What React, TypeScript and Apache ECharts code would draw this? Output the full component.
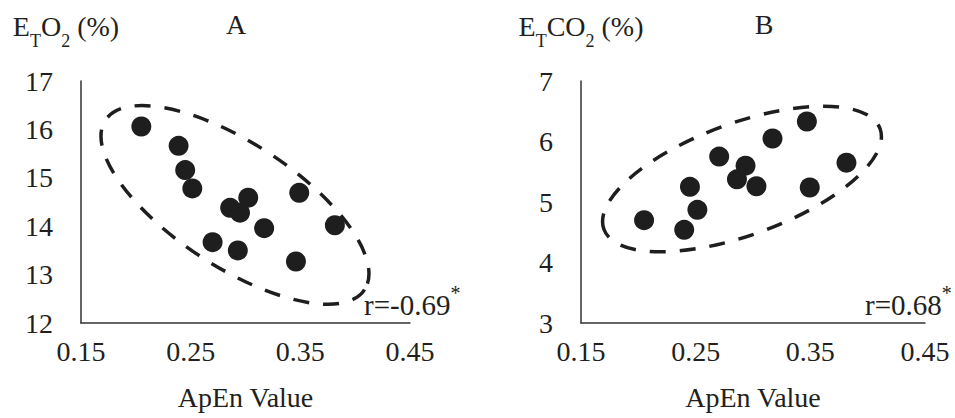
import React, { useEffect, useRef } from "react";
import * as echarts from "echarts";

// ---- Data ----
const xTicks = [0.15, 0.25, 0.35, 0.45];
const yTicksA = [12, 13, 14, 15, 16, 17];
const yTicksB = [3, 4, 5, 6, 7];

// Panel A: ApEn vs EtO2 (%)
const apEnA = [0.205, 0.239, 0.245, 0.2515, 0.3025, 0.286, 0.295, 0.317, 0.349, 0.3815, 0.27, 0.293, 0.346];
const etO2 = [16.06, 15.66, 15.16, 14.78, 14.59, 14.38, 14.28, 13.96, 14.69, 14.02, 13.67, 13.5, 13.27];

// Panel B: ApEn vs EtCO2 (%)
const apEnB = [0.205, 0.245, 0.2515, 0.24, 0.2705, 0.2935, 0.286, 0.303, 0.317, 0.347, 0.3815, 0.3495];
const etCO2 = [4.7, 5.25, 4.87, 4.54, 5.75, 5.6, 5.375, 5.26, 6.05, 6.33, 5.65, 5.24];

// Confidence ellipses (data space): center, end of major axis; minor radius in px
const ellipseACenter = [0.2904, 14.44];
const ellipseAMajorEnd = [0.1722, 16.19];
const ellipseBCenter = [0.2904, 5.38];
const ellipseBMajorEnd = [0.4108, 6.21];

const corrA = "r=-0.69";
const corrB = "r=0.68";

const FONT = "Liberation Serif";
const INK = "#1e1e1e";
const TEXT = "#231f20";

const richName = {
  m: { fontSize: 28, fontFamily: FONT, color: TEXT, lineHeight: 38, verticalAlign: "top" },
  s: { fontSize: 18, fontFamily: FONT, color: TEXT, lineHeight: 38, verticalAlign: "bottom" },
};

function xAxis(idx: number) {
  return {
    gridIndex: idx,
    type: "value",
    min: 0.15,
    max: 0.45,
    name: "ApEn Value",
    nameLocation: "middle",
    nameGap: 60,
    nameTextStyle: { fontSize: 28, fontFamily: FONT, color: TEXT },
    axisLine: { show: true, onZero: false, lineStyle: { color: "#333", width: 1.5 } },
    axisTick: { show: false },
    splitLine: { show: false },
    axisLabel: {
      customValues: xTicks,
      formatter: (v: number) => v.toFixed(2),
      fontSize: 28,
      fontFamily: FONT,
      color: TEXT,
      margin: 14,
      showMinLabel: true,
      showMaxLabel: true,
    },
  };
}

function yAxis(idx: number, ticks: number[], name: string, padRight: number) {
  return {
    gridIndex: idx,
    type: "value",
    min: ticks[0],
    max: ticks[ticks.length - 1],
    interval: 1,
    name,
    nameLocation: "end",
    nameGap: 31,
    nameTextStyle: { fontSize: 28, fontFamily: FONT, padding: [0, padRight, 0, 0], rich: richName },
    axisLine: { show: true, onZero: false, lineStyle: { color: "#333", width: 1.5 } },
    axisTick: { show: false },
    splitLine: { show: false },
    axisLabel: { fontSize: 28, fontFamily: FONT, color: TEXT, margin: 28 },
  };
}

function corrTitle(left: number, text: string) {
  return {
    text: `{a|${text}}{b|*}`,
    left,
    top: 283,
    padding: 0,
    textStyle: {
      fontSize: 29,
      fontFamily: FONT,
      fontWeight: "normal",
      color: TEXT,
      rich: {
        a: { fontSize: 29, fontFamily: FONT, color: TEXT, lineHeight: 36, verticalAlign: "bottom" },
        b: { fontSize: 20, fontFamily: FONT, color: TEXT, lineHeight: 36, verticalAlign: "top" },
      },
    },
  };
}

function panelTitle(left: number, text: string) {
  return {
    text,
    left,
    top: 10,
    textAlign: "center",
    padding: 0,
    textStyle: { fontSize: 28, fontFamily: FONT, fontWeight: "normal", color: TEXT, lineHeight: 28 },
  };
}

export default function App() {
  const ref = useRef<HTMLDivElement>(null);

  useEffect(() => {
    if (!ref.current) return;
    const chart = echarts.init(ref.current, undefined, { renderer: "svg" });
    chart.setOption({
      animation: false,
      title: [panelTitle(236, "A"), panelTitle(764, "B"), corrTitle(364, corrA), corrTitle(865, corrB)],
      grid: [
        { left: 81, top: 81, width: 329, height: 242 },
        { left: 581, top: 81, width: 344, height: 242 },
      ],
      xAxis: [xAxis(0), xAxis(1)],
      yAxis: [
        yAxis(0, yTicksA, "{m|E}{s|T}{m|O}{s|2}{m| (%)}", 30),
        yAxis(1, yTicksB, "{m|E}{s|T}{m|CO}{s|2}{m| (%)}", 0),
      ],
      series: [
        {
          type: "scatter",
          xAxisIndex: 0,
          yAxisIndex: 0,
          z: 2,
          symbol: "circle",
          symbolSize: 20,
          itemStyle: { color: INK, opacity: 1 },
          data: apEnA.map((x, i) => [x, etO2[i]]),
        },
        {
          type: "scatter",
          xAxisIndex: 1,
          yAxisIndex: 1,
          z: 2,
          symbol: "circle",
          symbolSize: 20,
          itemStyle: { color: INK, opacity: 1 },
          data: apEnB.map((x, i) => [x, etCO2[i]]),
        },
      ],
    });

    // Dashed confidence ellipses, placed through the chart's own coordinate conversion
    const ellipse = (gridIndex: number, center: number[], majorEnd: number[], minorPx: number) => {
      const c = chart.convertToPixel({ gridIndex }, center) as number[];
      const e = chart.convertToPixel({ gridIndex }, majorEnd) as number[];
      const dx = e[0] - c[0];
      const dy = e[1] - c[1];
      return {
        type: "ellipse",
        x: c[0],
        y: c[1],
        rotation: -Math.atan2(dy, dx),
        silent: true,
        z: 1,
        shape: { cx: 0, cy: 0, rx: Math.hypot(dx, dy), ry: minorPx },
        style: { stroke: INK, lineWidth: 3.5, lineDash: [16, 14], fill: "none" },
      };
    };
    chart.setOption({
      graphic: [
        ellipse(0, ellipseACenter, ellipseAMajorEnd, 62),
        ellipse(1, ellipseBCenter, ellipseBMajorEnd, 56),
      ],
    });

    return () => chart.dispose();
  }, []);

  return <div ref={ref} style={{ width: 955, height: 418, position: "absolute", left: 0, top: 0 }} />;
}
